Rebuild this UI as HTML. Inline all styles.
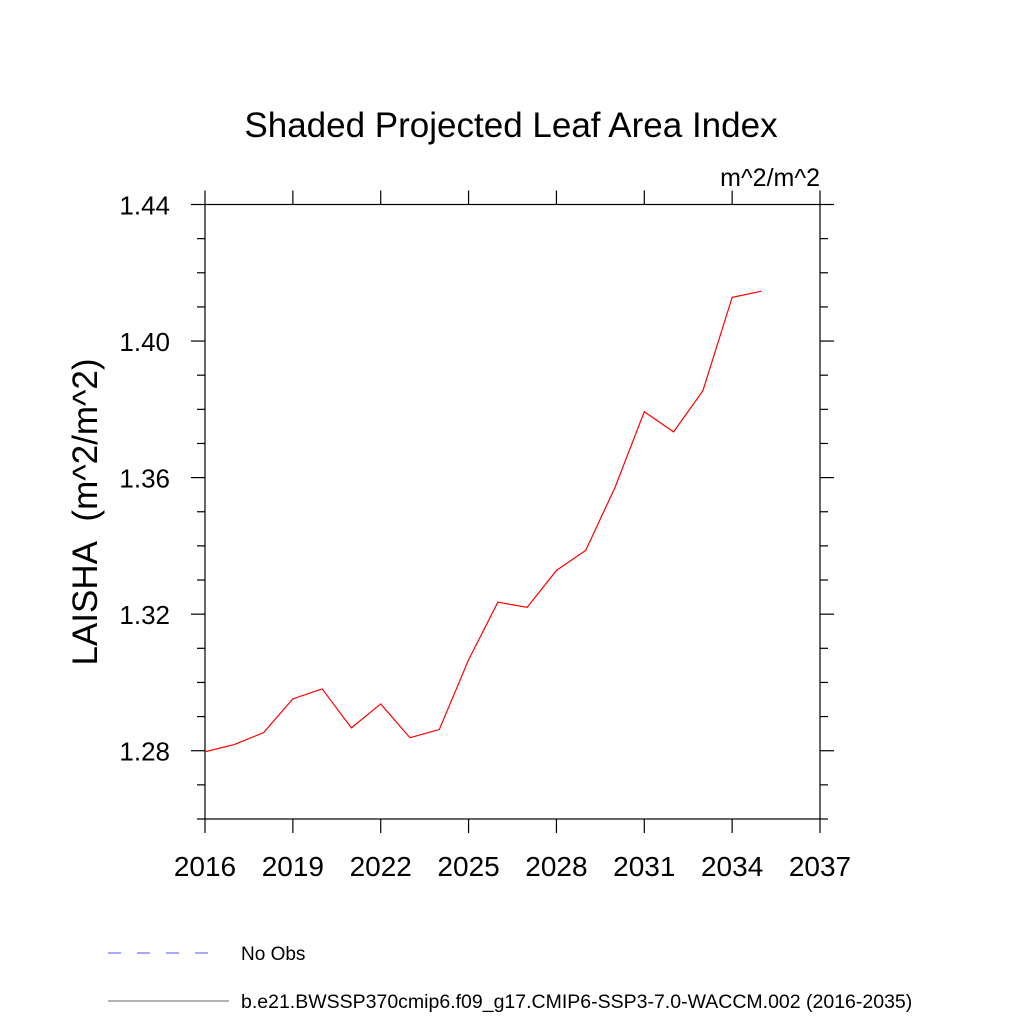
<!DOCTYPE html>
<html><head><meta charset="utf-8"><style>
body{margin:0;background:#fff;}
svg text{font-family:"Liberation Sans",sans-serif;fill:#000;}
</style></head><body>
<svg id="chart" width="1024" height="1024" viewBox="0 0 1024 1024">
<rect width="1024" height="1024" fill="#fff"/>
<text x="511" y="137" font-size="35" text-anchor="middle">Shaded Projected Leaf Area Index</text>
<text x="820" y="186" font-size="25" text-anchor="end">m^2/m^2</text>
<text transform="translate(97,512) rotate(-90)" font-size="35" text-anchor="middle">LAISHA&#160; (m^2/m^2)</text>
<g id="axes"></g>
<polyline id="series" fill="none" stroke="#ff0000" stroke-width="1.2"/>
<line x1="108" y1="953" x2="216" y2="953" stroke="#5050ff" stroke-width="1" stroke-dasharray="13,16"/>
<text x="241" y="960" font-size="19">No Obs</text>
<line x1="108" y1="1001" x2="229" y2="1001" stroke="#666" stroke-width="1"/>
<text x="241" y="1008" font-size="19.5">b.e21.BWSSP370cmip6.f09_g17.CMIP6-SSP3-7.0-WACCM.002 (2016-2035)</text>
</svg>
<script>
const years=[2016,2017,2018,2019,2020,2021,2022,2023,2024,2025,2026,2027,2028,2029,2030,2031,2032,2033,2034,2035];
const values=[1.2797,1.2818,1.2853,1.2952,1.2981,1.2867,1.2937,1.2838,1.2862,1.3066,1.3235,1.3220,1.3328,1.3387,1.3571,1.3793,1.3734,1.3854,1.4128,1.4146];
const xTicks=[2016,2019,2022,2025,2028,2031,2034,2037];
const yTicks=[1.28,1.32,1.36,1.40,1.44];
const yMinor=[1.26,1.27,1.29,1.30,1.31,1.33,1.34,1.35,1.37,1.38,1.39,1.41,1.42,1.43];
const X0=205,X1=820,Y0=819,Y1=204.5,xmin=2016,xmax=2037,ymin=1.26,ymax=1.44;
const sx=v=>X0+(v-xmin)/(xmax-xmin)*(X1-X0);
const sy=v=>Y0-(v-ymin)/(ymax-ymin)*(Y0-Y1);
const NS='http://www.w3.org/2000/svg';
const ax=document.getElementById('axes');
function ln(x1,y1,x2,y2,name){const l=document.createElementNS(NS,'line');
l.setAttribute('x1',x1);l.setAttribute('y1',y1);l.setAttribute('x2',x2);l.setAttribute('y2',y2);
l.setAttribute('stroke','#000');l.setAttribute('stroke-width','1.2');


ax.appendChild(l);}
function tx(x,y,s,anchor,size,name){const t=document.createElementNS(NS,'text');
t.setAttribute('x',x);t.setAttribute('y',y);t.setAttribute('font-size',size);t.setAttribute('text-anchor',anchor);t.textContent=s;


ax.appendChild(t);}
const fr=document.createElementNS(NS,'rect');
fr.setAttribute('x',X0);fr.setAttribute('y',Y1);fr.setAttribute('width',X1-X0);fr.setAttribute('height',Y0-Y1);
fr.setAttribute('fill','none');fr.setAttribute('stroke','#000');fr.setAttribute('stroke-width','1.2');


ax.appendChild(fr);
xTicks.forEach(v=>{const x=sx(v);ln(x,Y0,x,Y0+14,'x-tick');ln(x,Y1,x,Y1-14,'x-tick-top');tx(x,Y0+57,String(v),'middle','28','x-tick-label');});
yTicks.forEach(v=>{const y=sy(v);ln(X0,y,X0-14,y,'y-tick');ln(X1,y,X1+14,y,'y-tick-right');tx(X0-35,y+10,v.toFixed(2),'end','26','y-tick-label');});
yMinor.forEach(v=>{const y=sy(v);ln(X0,y,X0-8,y,'y-minor-tick');ln(X1,y,X1+8,y,'y-minor-tick-right');});
document.getElementById('series').setAttribute('points',years.map((yr,i)=>sx(yr)+','+sy(values[i])).join(' '));
</script>
</body></html>
